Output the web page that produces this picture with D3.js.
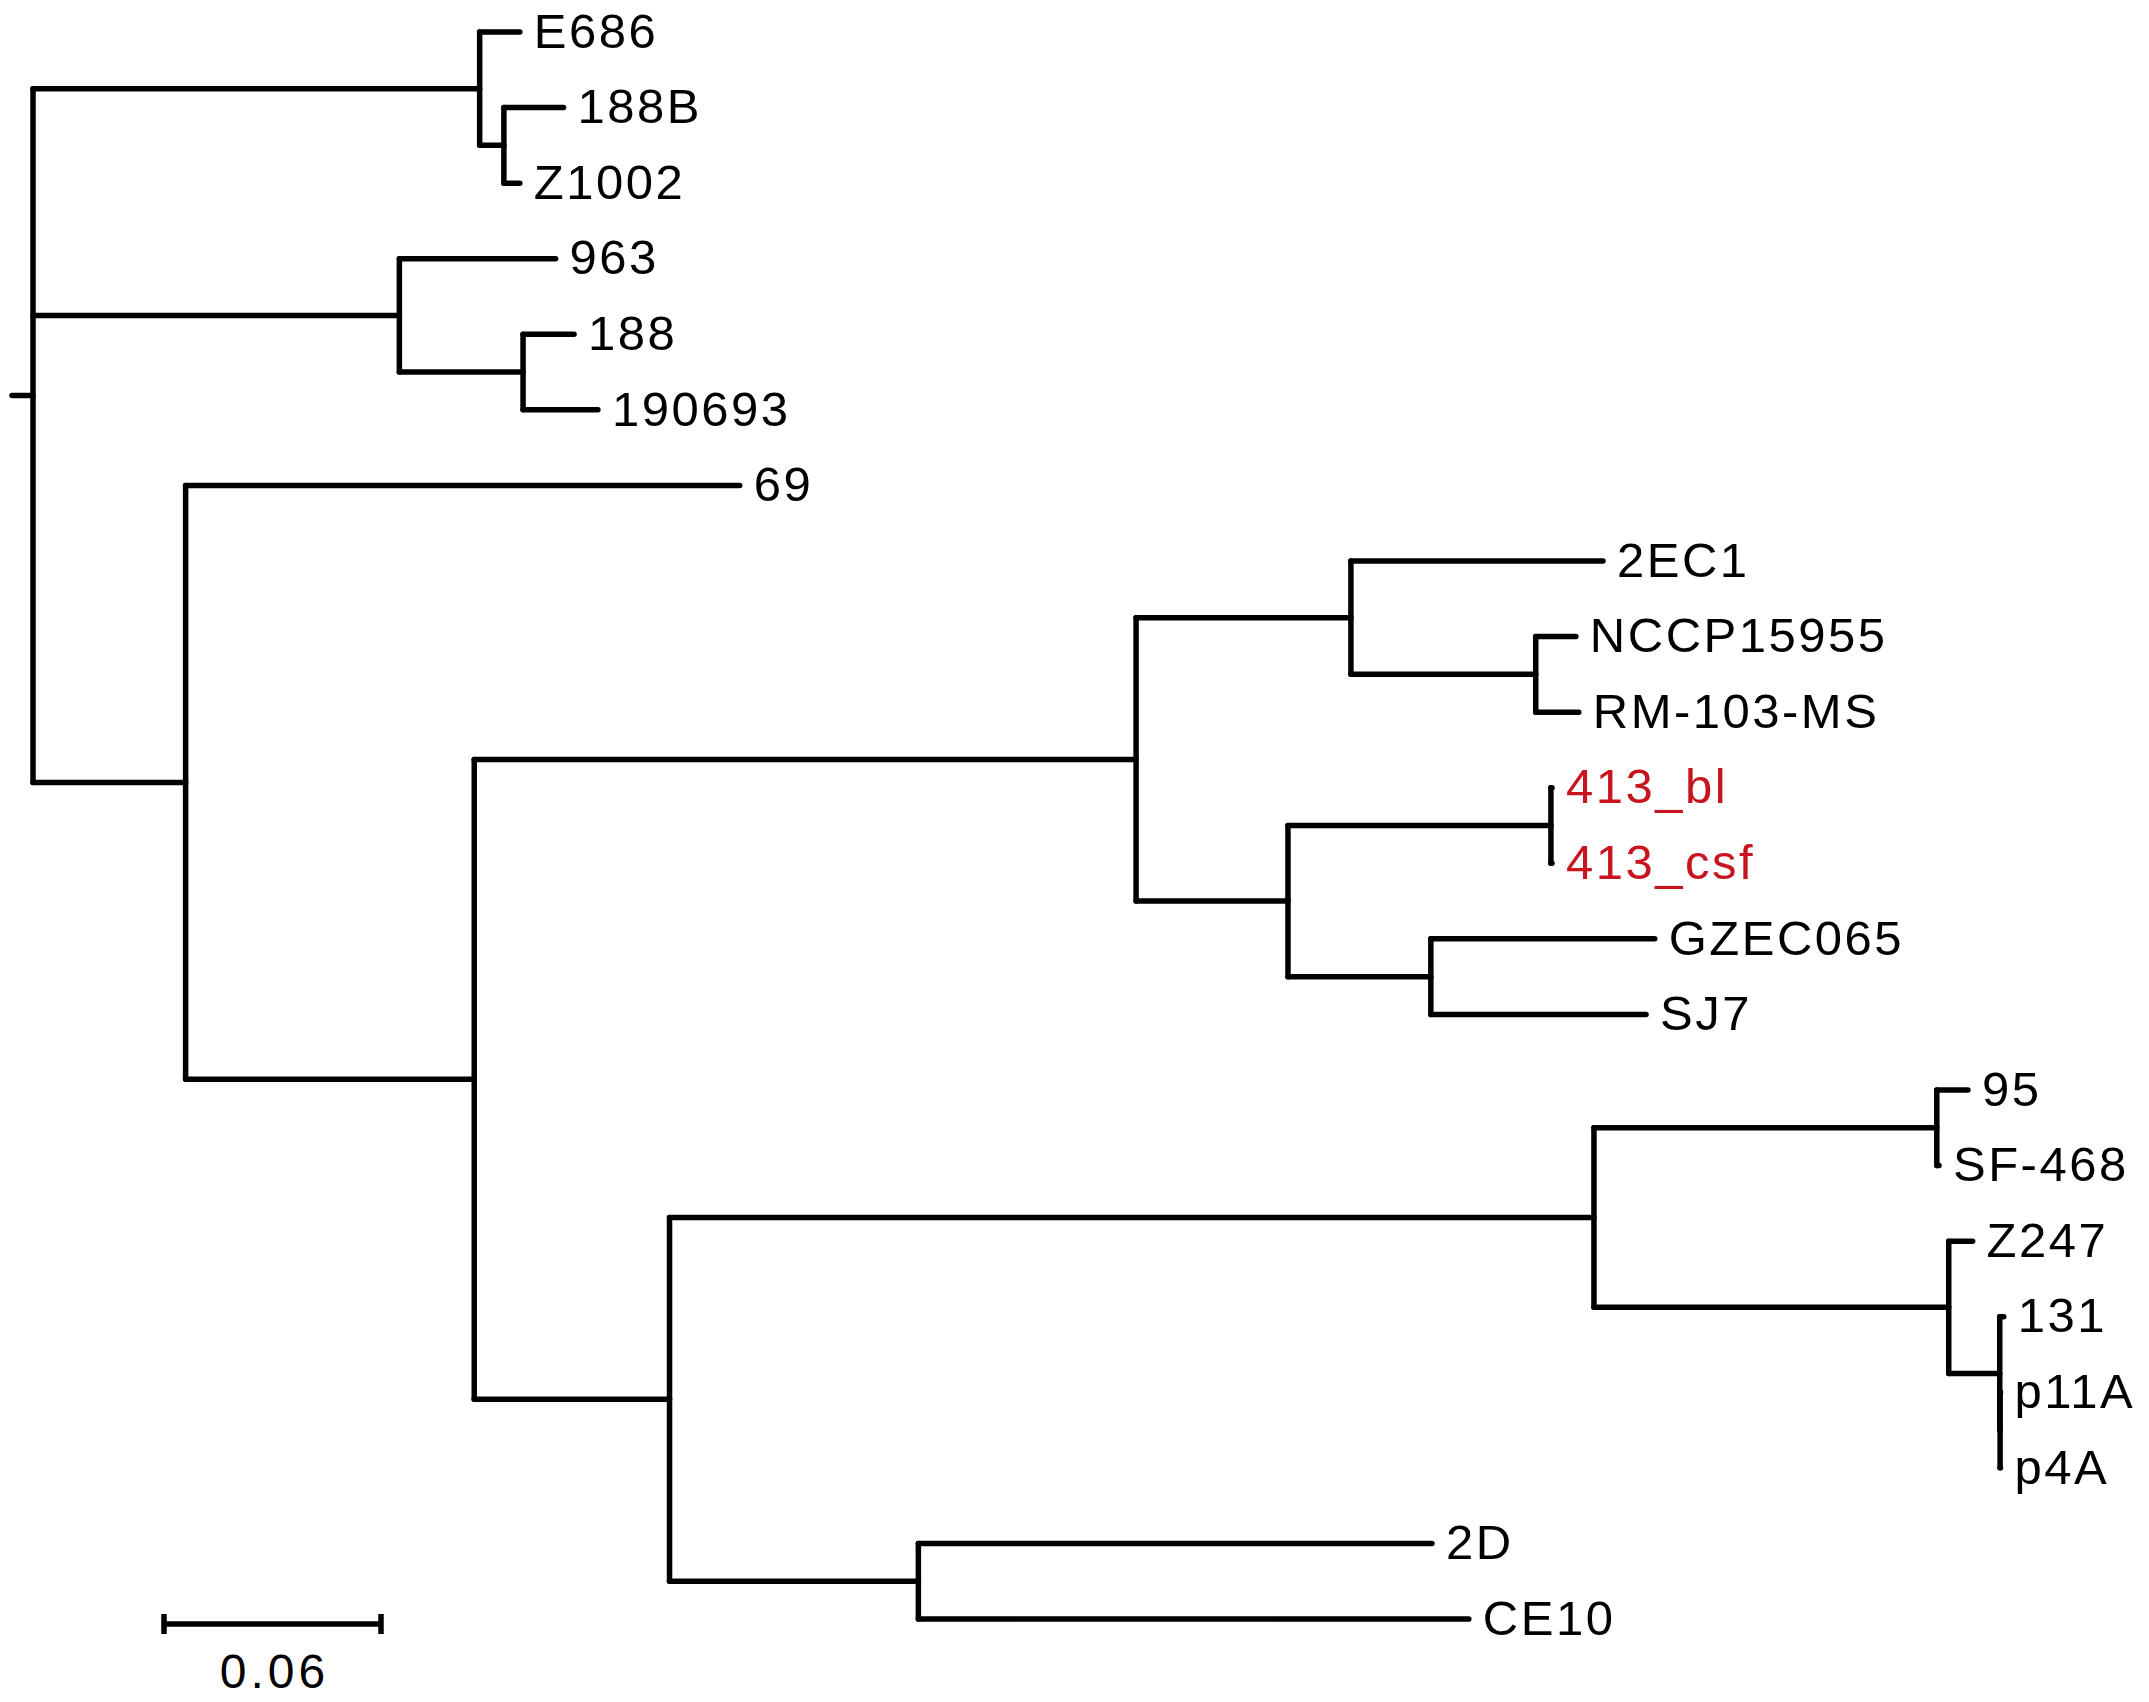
<!DOCTYPE html>
<html>
<head>
<meta charset="utf-8">
<script src="https://cdn.jsdelivr.net/npm/d3@7"></script>
<style>
body { margin: 0; background: #fff; }
text { font-family: "Liberation Sans", Arial, sans-serif; }
</style>
</head>
<body>
<div id="tree"></div>
<script>
// tree as parallel lists: node, its parent, branch length (substitutions/site)
var nodeNames = ['root',
  'nA', 'E686', 'nA2', '188B', 'Z1002',
  'nB', '963', 'nB2', '188', '190693',
  'nC', '69', 'nD',
  'nE', 'nF', '2EC1', 'nF2', 'NCCP15955', 'RM-103-MS',
  'nG', 'nG1', '413_bl', '413_csf', 'nG2', 'GZEC065', 'SJ7',
  'nH', 'nI', 'nI1', '95', 'SF-468', 'nI2', 'Z247', 'nI3', '131', 'nI4', 'p11A', 'p4A',
  'nJ', '2D', 'CE10'];
var parentNames = ['',
  'root', 'nA', 'nA', 'nA2', 'nA2',
  'root', 'nB', 'nB', 'nB2', 'nB2',
  'root', 'nC', 'nC',
  'nD', 'nE', 'nF', 'nF', 'nF2', 'nF2',
  'nE', 'nG', 'nG1', 'nG1', 'nG', 'nG2', 'nG2',
  'nD', 'nH', 'nI', 'nI1', 'nI1', 'nI', 'nI2', 'nI2', 'nI3', 'nI3', 'nI4', 'nI4',
  'nH', 'nJ', 'nJ'];
var branchLengths = [0,
  0.1235, 0.0111, 0.0067, 0.0165, 0.0044,
  0.1013, 0.0432, 0.0342, 0.0141, 0.0207,
  0.0422, 0.1532, 0.0798,
  0.1830, 0.0594, 0.0697, 0.0511, 0.0111, 0.0119,
  0.0420, 0.0727, 0.0003, 0.0003, 0.0395, 0.0619, 0.0595,
  0.0540, 0.2556, 0.0948, 0.0086, 0.0006, 0.0981, 0.0066, 0.0141, 0.0011, 0.0001, 0.0001, 0.0001,
  0.0688, 0.1420, 0.1522];
var highlighted = ['413_bl', '413_csf'];
var scaleBarValue = 0.06;
var scaleBarLabel = '0.06';

var width = 2149, height = 1702;

var svg = d3.select('#tree').append('svg')
  .attr('width', width)
  .attr('height', height);

var table = nodeNames.map((n, i) => ({ name: n, parent: parentNames[i], length: branchLengths[i] }));

var root = d3.stratify()
  .id(d => d.name)
  .parentId(d => d.parent || null)(table);

// cumulative distance from root
root.eachBefore(d => {
  d.dist = d.parent ? d.parent.dist + d.data.length : 0;
});

var leaves = root.leaves();

var x = d3.scaleLinear()
  .domain([0, 0.6])
  .range([33, 33 + 2170]);

var y = d3.scalePoint()
  .domain(leaves.map(d => d.id))
  .range([32, 1619]);

// node y = mean of children
root.eachAfter(d => {
  d.py = d.children ? d3.mean(d.children, c => c.py) : y(d.id);
});

var lw = 5.5;

var g = svg.append('g')
  .attr('stroke', '#000')
  .attr('stroke-width', lw)
  .attr('stroke-linecap', 'round')
  .attr('fill', 'none');

// root stub
g.append('line')
  .attr('x1', x(0) - 21)
  .attr('x2', x(0))
  .attr('y1', root.py)
  .attr('y2', root.py);

var internal = root.descendants().filter(d => d.children);

// vertical connectors
g.selectAll('.vline')
  .data(internal)
  .enter()
  .append('line')
  .attr('class', 'vline')
  .attr('x1', d => x(d.dist))
  .attr('x2', d => x(d.dist))
  .attr('y1', d => d3.min(d.children, c => c.py))
  .attr('y2', d => d3.max(d.children, c => c.py));

// horizontal branches
g.selectAll('.hline')
  .data(root.descendants().filter(d => d.parent))
  .enter()
  .append('line')
  .attr('class', 'hline')
  .attr('x1', d => x(d.parent.dist))
  .attr('x2', d => x(d.dist))
  .attr('y1', d => d.py)
  .attr('y2', d => d.py);

// tip labels
svg.selectAll('.name')
  .data(leaves)
  .enter()
  .append('text')
  .attr('class', 'name')
  .attr('x', d => x(d.dist) + 14)
  .attr('y', d => d.py)
  .attr('dy', '0.32em')
  .style('font-size', '49px')
  .style('letter-spacing', '2.5px')
  .attr('fill', d => highlighted.includes(d.id) ? '#c8141e' : '#000')
  .text(d => d.id);

// scale bar
var barX0 = 164, barY = 1624;
var barLen = x(scaleBarValue) - x(0);
var sb = svg.append('g')
  .attr('stroke', '#000')
  .attr('stroke-width', lw);
sb.append('line')
  .attr('x1', barX0).attr('x2', barX0 + barLen)
  .attr('y1', barY).attr('y2', barY);
sb.selectAll('.tick')
  .data([barX0, barX0 + barLen])
  .enter()
  .append('line')
  .attr('x1', d => d).attr('x2', d => d)
  .attr('y1', barY - 10).attr('y2', barY + 10);

svg.append('text')
  .attr('x', barX0 + barLen / 2 + 2)
  .attr('y', 1688)
  .attr('text-anchor', 'middle')
  .style('font-size', '48px')
  .style('letter-spacing', '4px')
  .text(scaleBarLabel);
</script>
</body>
</html>
